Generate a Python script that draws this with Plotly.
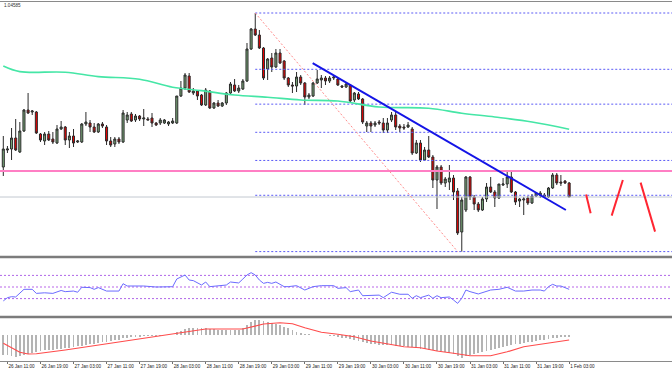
import pandas as pd
import plotly.graph_objects as go

# ---------------- data (EURUSD-like H1) ----------------
start_time = "2017-01-26 10:00"

open_ = [1.03815, 1.03900, 1.03905, 1.03960, 1.03890, 1.03995, 1.04100, 1.04090, 1.04090, 1.03980,
         1.03945, 1.03980, 1.03955, 1.03935, 1.04005, 1.04015, 1.03950, 1.03970, 1.03940, 1.03940,
         1.04030, 1.04035, 1.04015, 1.03990, 1.04030, 1.04015, 1.03945, 1.03930, 1.03955, 1.03940,
         1.04050, 1.04080, 1.04050, 1.04070, 1.04055, 1.04055, 1.04060, 1.04035, 1.04035, 1.04035,
         1.04030, 1.04035, 1.04035, 1.04170, 1.04210, 1.04270, 1.04185, 1.04195, 1.04175, 1.04125,
         1.04195, 1.04110, 1.04135, 1.04120, 1.04135, 1.04185, 1.04225, 1.04195, 1.04205, 1.04245,
         1.04405, 1.04505, 1.04475, 1.04410, 1.04305, 1.04360, 1.04315, 1.04385, 1.04345, 1.04260,
         1.04225, 1.04220, 1.04265, 1.04235, 1.04165, 1.04170, 1.04235, 1.04250, 1.04260, 1.04245,
         1.04260, 1.04255, 1.04220, 1.04215, 1.04225, 1.04150, 1.04180, 1.04155, 1.04020, 1.04035,
         1.04025, 1.04040, 1.04035, 1.04000, 1.04050, 1.04075, 1.04020, 1.04015, 1.04015, 1.04005,
         1.03885, 1.03935, 1.03850, 1.03900, 1.03865, 1.03750, 1.03815, 1.03735, 1.03740, 1.03760,
         1.03695, 1.03490, 1.03600, 1.03765, 1.03665, 1.03630, 1.03600, 1.03655, 1.03715, 1.03690,
         1.03660, 1.03725, 1.03730, 1.03765, 1.03690, 1.03645, 1.03650, 1.03660, 1.03635, 1.03670,
         1.03675, 1.03665, 1.03665, 1.03710, 1.03775, 1.03740, 1.03745, 1.03735]

high_ = [1.03970, 1.03920, 1.04010, 1.04055, 1.04040, 1.04105, 1.04185, 1.04100, 1.04095, 1.03985,
         1.03990, 1.03995, 1.03990, 1.04025, 1.04045, 1.04020, 1.03990, 1.04005, 1.03950, 1.04035,
         1.04090, 1.04050, 1.04035, 1.04035, 1.04040, 1.04025, 1.03965, 1.03965, 1.03965, 1.04100,
         1.04090, 1.04090, 1.04080, 1.04075, 1.04105, 1.04065, 1.04085, 1.04040, 1.04060, 1.04055,
         1.04045, 1.04060, 1.04170, 1.04245, 1.04285, 1.04285, 1.04210, 1.04200, 1.04180, 1.04210,
         1.04200, 1.04140, 1.04150, 1.04140, 1.04190, 1.04240, 1.04255, 1.04225, 1.04255, 1.04435,
         1.04510, 1.04585, 1.04500, 1.04415, 1.04360, 1.04385, 1.04405, 1.04405, 1.04350, 1.04265,
         1.04240, 1.04290, 1.04275, 1.04240, 1.04185, 1.04240, 1.04300, 1.04275, 1.04270, 1.04270,
         1.04275, 1.04260, 1.04225, 1.04240, 1.04230, 1.04190, 1.04190, 1.04160, 1.04045, 1.04045,
         1.04045, 1.04050, 1.04060, 1.04060, 1.04090, 1.04090, 1.04030, 1.04030, 1.04040, 1.04015,
         1.03950, 1.03950, 1.03915, 1.03970, 1.03875, 1.03825, 1.03825, 1.03765, 1.03825, 1.03775,
         1.03710, 1.03665, 1.03770, 1.03770, 1.03675, 1.03640, 1.03665, 1.03735, 1.03765, 1.03700,
         1.03730, 1.03760, 1.03795, 1.03790, 1.03695, 1.03660, 1.03665, 1.03670, 1.03680, 1.03690,
         1.03695, 1.03685, 1.03715, 1.03785, 1.03785, 1.03775, 1.03750, 1.03740]

low_ = [1.03770, 1.03885, 1.03850, 1.03895, 1.03885, 1.03990, 1.04080, 1.04075, 1.03980, 1.03940,
        1.03925, 1.03945, 1.03930, 1.03930, 1.04000, 1.03925, 1.03910, 1.03915, 1.03935, 1.03935,
        1.04020, 1.03990, 1.03985, 1.03985, 1.04010, 1.03925, 1.03915, 1.03915, 1.03930, 1.03935,
        1.04035, 1.04040, 1.04040, 1.04045, 1.04020, 1.04050, 1.04015, 1.04020, 1.04025, 1.04030,
        1.04020, 1.04030, 1.04030, 1.04165, 1.04200, 1.04185, 1.04175, 1.04150, 1.04120, 1.04120,
        1.04105, 1.04105, 1.04115, 1.04115, 1.04125, 1.04180, 1.04190, 1.04185, 1.04200, 1.04240,
        1.04400, 1.04470, 1.04405, 1.04250, 1.04250, 1.04290, 1.04310, 1.04330, 1.04250, 1.04215,
        1.04185, 1.04190, 1.04225, 1.04125, 1.04155, 1.04165, 1.04230, 1.04210, 1.04225, 1.04235,
        1.04250, 1.04220, 1.04210, 1.04210, 1.04135, 1.04140, 1.04150, 1.04030, 1.03990, 1.03990,
        1.04015, 1.04025, 1.03985, 1.03985, 1.04040, 1.04000, 1.03990, 1.04000, 1.04010, 1.03875,
        1.03880, 1.03840, 1.03845, 1.03860, 1.03710, 1.03605, 1.03725, 1.03715, 1.03700, 1.03650,
        1.03475, 1.03392, 1.03590, 1.03650, 1.03600, 1.03590, 1.03595, 1.03640, 1.03685, 1.03615,
        1.03655, 1.03720, 1.03710, 1.03685, 1.03625, 1.03615, 1.03575, 1.03625, 1.03630, 1.03665,
        1.03660, 1.03660, 1.03660, 1.03705, 1.03725, 1.03720, 1.03730, 1.03665]

close_ = [1.03905, 1.03905, 1.03960, 1.03900, 1.03995, 1.04100, 1.04085, 1.04095, 1.03985, 1.03950,
          1.03980, 1.03950, 1.03940, 1.04005, 1.04015, 1.03950, 1.03970, 1.03935, 1.03945, 1.04030,
          1.04040, 1.04015, 1.03990, 1.04030, 1.04020, 1.03945, 1.03925, 1.03955, 1.03940, 1.04085,
          1.04075, 1.04045, 1.04070, 1.04055, 1.04060, 1.04050, 1.04035, 1.04025, 1.04050, 1.04050,
          1.04040, 1.04045, 1.04170, 1.04210, 1.04275, 1.04190, 1.04195, 1.04170, 1.04125, 1.04200,
          1.04110, 1.04135, 1.04120, 1.04135, 1.04185, 1.04230, 1.04195, 1.04210, 1.04245, 1.04405,
          1.04505, 1.04475, 1.04410, 1.04260, 1.04355, 1.04315, 1.04385, 1.04335, 1.04260, 1.04225,
          1.04220, 1.04265, 1.04235, 1.04165, 1.04175, 1.04235, 1.04255, 1.04260, 1.04245, 1.04260,
          1.04265, 1.04225, 1.04215, 1.04230, 1.04145, 1.04185, 1.04155, 1.04040, 1.04035, 1.04020,
          1.04035, 1.04035, 1.04000, 1.04035, 1.04075, 1.04015, 1.04010, 1.04010, 1.04025, 1.03885,
          1.03935, 1.03850, 1.03900, 1.03865, 1.03750, 1.03815, 1.03735, 1.03755, 1.03760, 1.03690,
          1.03485, 1.03650, 1.03765, 1.03665, 1.03630, 1.03600, 1.03655, 1.03715, 1.03690, 1.03660,
          1.03730, 1.03730, 1.03765, 1.03690, 1.03640, 1.03655, 1.03655, 1.03635, 1.03670, 1.03685,
          1.03685, 1.03675, 1.03710, 1.03775, 1.03735, 1.03735, 1.03735, 1.03665]

# moving average (sampled along the curve): bar number, price
ma_bar = [0, 4, 15, 23, 33, 41, 48, 56, 64, 72, 81, 91, 103, 111, 119, 128, 137]
ma_val = [1.04320, 1.04292, 1.04289, 1.04267, 1.04254, 1.04214, 1.04197, 1.04175, 1.04164,
          1.04150, 1.04145, 1.04115, 1.04109, 1.04084, 1.04065, 1.04040, 1.04004]

# RSI (sampled): bar number, value
rsi_bar = [0, 1, 2, 3, 5, 7, 8, 10, 12, 14, 15, 17, 18, 19, 21, 22, 23, 25, 28, 29, 30, 31, 34, 37,
           40, 41, 42, 43, 44, 45, 46, 48, 49, 50, 52, 54, 55, 57, 58, 59, 60, 61, 62, 63, 64, 65,
           66, 68, 69, 71, 73, 75, 77, 80, 81, 83, 84, 86, 87, 89, 91, 92, 94, 96, 98, 99, 100,
           101, 103, 104, 105, 106, 108, 109, 110, 111, 112, 113, 115, 118, 120, 122, 124, 126,
           128, 130, 131, 132, 133, 134, 135, 137]
rsi_val = [26, 31.6, 33.3, 32.8, 46, 46, 39, 40, 39, 44, 42, 43, 41, 49.5, 49, 46, 49, 43, 43, 55.7,
           51.7, 52, 51.7, 50, 49.5, 50.5, 63.8, 67.8, 70.7, 62, 61, 53.4, 58.6, 50.6, 51.7, 53.4,
           58.6, 57, 63.8, 70.7, 74.7, 70.7, 62, 56.3, 58, 56.3, 58.6, 50.6, 50.6, 52.3, 44.8, 50.6,
           52.3, 52.3, 47.7, 48.9, 42, 44.8, 35, 35, 36, 31.6, 41, 37.5, 37.5, 30.5, 35, 31.6, 36,
           30.5, 35, 31.6, 32.8, 27.6, 21.8, 30.5, 44.8, 42, 38, 44.8, 46, 49.5, 43, 43, 44.8, 44.8,
           43, 50.6, 54.6, 51.7, 51.7, 46]
rsi_levels = [70, 50, 30]

# MACD main (histogram) per bar and signal (sampled), in units of 1e-4
macd_e4 = [-8.0, -8.0, -8.4, -8.7, -8.4, -8.0, -7.6, -7.1, -6.7, -6.4, -6.1,
           -6.0, -5.9, -5.7, -5.6,
           -5.3, -5.1, -4.8, -4.5, -4.3,
           -4.0, -3.7, -3.5, -3.2, -2.9,
           -2.7, -2.4, -2.1, -1.9, -1.3,
           -1.1, -0.9, -0.8, -0.7, -0.5,
           -0.4, -0.4, -0.3, -0.3, -0.1, -0.1,
           0.05,
           1.1, 1.6, 2.4, 2.7,
           2.9, 2.9, 2.8, 2.7, 2.5, 2.4,
           2.0, 2.0, 1.9, 1.9, 2.0, 2.1,
           2.7, 4.0, 5.3, 6.0, 5.9, 5.6, 5.3, 4.8, 4.5, 4.0, 3.3, 2.7, 2.0, 1.1,
           0.7, 0.4, 0.3, 0.1, 0.05, 0.05, -0.1, -0.3,
           -0.5, -0.8, -1.1, -1.3, -1.6, -2.0, -2.4, -2.9, -3.2, -3.5, -3.7, -3.9, -4.0, -4.1,
           -4.1, -4.3, -4.4, -4.5, -4.7, -4.9,
           -5.2, -5.5, -5.6, -5.9, -6.1, -6.3, -6.5, -6.8, -7.2, -7.7, -8.4, -9.1,
           -8.3, -8.0, -7.6, -7.2, -6.8, -6.4, -6.0, -5.6, -5.2, -4.8, -4.4, -4.0, -3.7, -3.5,
           -3.2, -2.9, -2.7, -2.4, -2.1, -1.9, -1.6, -1.3, -1.1, -0.8, -0.7, -0.8]
signal_bar = [0, 4, 6, 8, 15, 23, 31, 39, 41, 47, 49, 58, 60, 63, 67, 70, 73, 77, 81, 85, 89, 93,
              97, 101, 105, 109, 113, 118, 122, 126, 130, 134, 137]
signal_e4 = [-3.3, -6.9, -7.6, -7.5, -6.0, -4.0, -2.2, -0.2, 0.3, 2.0, 2.4, 2.4, 3.3, 4.4, 4.9,
             4.5, 2.9, 1.1, 0.3, -0.7, -2.4, -3.7, -4.7, -5.1, -6.4, -7.3, -8.3, -8.3, -6.7,
             -4.7, -3.7, -2.9, -2.0]

# drawn objects
fib_from_bar, fib_to_bar = 61, 110
fib_high, fib_low = 1.04585, 1.03392
fib_ratios = [0.0, 0.236, 0.382, 0.5, 0.618, 0.764, 1.0]
resistance = 1.03795
trend_time = ["2017-01-29 12:54", "2017-02-01 02:12"]
trend_price = [1.04334, 1.03600]
proj_time = [["2017-02-01 07:06", "2017-02-01 08:12"],
             ["2017-02-01 13:18", "2017-02-01 16:00"],
             ["2017-02-01 20:18", "2017-02-01 23:48"]]
proj_price = [[1.03677, 1.03584], [1.03572, 1.03750], [1.03737, 1.03492]]

x_range = ["2017-01-26 09:12", "2017-02-02 03:54"]
first_tick = "2017-01-26 03:00"
price_range = [1.0337, 1.0464]
macd_range = [-10.4, 6.8]

# ---------------- figure ----------------
times = pd.date_range(start_time, periods=len(close_), freq="h")
tick_times = pd.date_range(first_tick, times[-1], freq="8h")
ms_hour = 3600 * 1000

fig = go.Figure()

# fibonacci levels (rays to the right)
fx, fy = [], []
for r in fib_ratios:
    lvl = fib_high - r * (fib_high - fib_low)
    fx += [times[fib_from_bar], x_range[1], None]
    fy += [lvl, lvl, None]
fig.add_trace(go.Scatter(x=fx, y=fy, mode="lines", xaxis="x", yaxis="y",
                         line=dict(color="#5a5af5", width=1, dash="2px,2px"), hoverinfo="skip"))
# resistance & bid line
fig.add_trace(go.Scatter(x=x_range, y=[resistance, resistance], mode="lines", xaxis="x", yaxis="y",
                         line=dict(color="#ff7fc4", width=2), hoverinfo="skip"))
fig.add_trace(go.Scatter(x=x_range, y=[close_[-1], close_[-1]], mode="lines", xaxis="x", yaxis="y",
                         line=dict(color="#c2c8d0", width=1), hoverinfo="skip"))
# fib diagonal
fig.add_trace(go.Scatter(x=[times[fib_from_bar], times[fib_to_bar]], y=[fib_high, fib_low],
                         mode="lines", xaxis="x", yaxis="y",
                         line=dict(color="#ff8c8c", width=1, dash="2px,2px"), hoverinfo="skip"))

fig.add_trace(go.Candlestick(
    x=times, open=open_, high=high_, low=low_, close=close_, xaxis="x", yaxis="y",
    increasing=dict(line=dict(color="#2b2b2b", width=1), fillcolor="#78a678"),
    decreasing=dict(line=dict(color="#2b2b2b", width=1), fillcolor="#e80000"),
    whiskerwidth=0, hoverinfo="skip"))

# moving average
fig.add_trace(go.Scatter(x=[times[i] for i in ma_bar], y=ma_val, mode="lines", xaxis="x", yaxis="y",
                         line=dict(color="#45e6a6", width=1.6, shape="spline"), hoverinfo="skip"))
# trend line
fig.add_trace(go.Scatter(x=trend_time, y=trend_price, mode="lines", xaxis="x", yaxis="y",
                         line=dict(color="#1414e6", width=2), hoverinfo="skip"))
# projection strokes
for tx, py in zip(proj_time, proj_price):
    fig.add_trace(go.Scatter(x=tx, y=py, mode="lines", xaxis="x", yaxis="y",
                             line=dict(color="#ff2632", width=2), hoverinfo="skip"))

# RSI pane
for lv in rsi_levels:
    mid = lv == 50
    fig.add_trace(go.Scatter(x=x_range, y=[lv, lv], mode="lines", xaxis="x", yaxis="y2",
                             line=dict(color="#dcb2f4" if mid else "#b066e8",
                                       width=2 if mid else 1, dash="2px,2px"),
                             hoverinfo="skip"))
fig.add_trace(go.Scatter(x=[times[i] for i in rsi_bar], y=rsi_val, mode="lines", xaxis="x",
                         yaxis="y2", line=dict(color="#6b6bff", width=1), hoverinfo="skip"))

# MACD pane
fig.add_trace(go.Bar(x=times, y=macd_e4, xaxis="x", yaxis="y3", width=0.45 * ms_hour,
                     marker=dict(color="#b4b4b4", line=dict(width=0)), hoverinfo="skip"))
fig.add_trace(go.Scatter(x=[times[i] for i in signal_bar], y=signal_e4, mode="lines", xaxis="x",
                         yaxis="y3", line=dict(color="#ff4b4b", width=1.2), hoverinfo="skip"))

H = 361.0  # plot-area height in px (372 - bottom margin)


def pf(px):
    return (H - px) / H


sep_lines = []
for ypx, w, c in [(1.5, 1, "#8a8a8a"), (257, 2.5, "#7c7c7c"), (317, 2.5, "#7c7c7c")]:
    sep_lines.append(dict(type="line", xref="paper", yref="paper", x0=0, x1=1,
                          y0=pf(ypx), y1=pf(ypx), line=dict(color=c, width=w)))

fig.update_layout(
    width=672, height=372,
    margin=dict(l=0, r=0, t=0, b=11, autoexpand=False),
    paper_bgcolor="white", plot_bgcolor="white",
    showlegend=False, bargap=0,
    font=dict(family="Liberation Sans, Arial, sans-serif", color="#222222"),
    xaxis=dict(type="date", range=x_range, anchor="y3", domain=[0, 1], automargin=False,
               rangeslider=dict(visible=False), showgrid=False, zeroline=False,
               tickmode="array", tickvals=list(tick_times), tickformat="%-d %b %H:%M",
               tickangle=0, ticks="outside", ticklen=2, tickcolor="#707070", tickwidth=1,
               ticklabelposition="outside right", ticklabelstandoff=0,
               tickfont=dict(size=4.6, color="#222222"),
               showline=True, linecolor="#8a8a8a", linewidth=1),
    yaxis=dict(domain=[pf(256), pf(2)], range=price_range, anchor="x", automargin=False,
               showgrid=False, zeroline=False, showticklabels=False, ticks=""),
    yaxis2=dict(domain=[pf(316), pf(258)], range=[0, 100], anchor="x", automargin=False,
                showgrid=False, zeroline=False, showticklabels=False, ticks=""),
    yaxis3=dict(domain=[pf(361), pf(318)], range=macd_range, anchor="x", automargin=False,
                showgrid=False, zeroline=False, showticklabels=False, ticks=""),
    shapes=sep_lines,
    annotations=[dict(text=f"{fib_high:.5f}", xref="paper", yref="paper", x=0.003, y=pf(5.5),
                      xanchor="left", yanchor="middle", showarrow=False,
                      font=dict(size=4.6, color="#303030"))],
)

fig.write_html(
    "out.html",
    config={"displayModeBar": False, "staticPlot": True},
    post_script="document.body.style.margin='0px';document.body.style.overflow='hidden';",
)
